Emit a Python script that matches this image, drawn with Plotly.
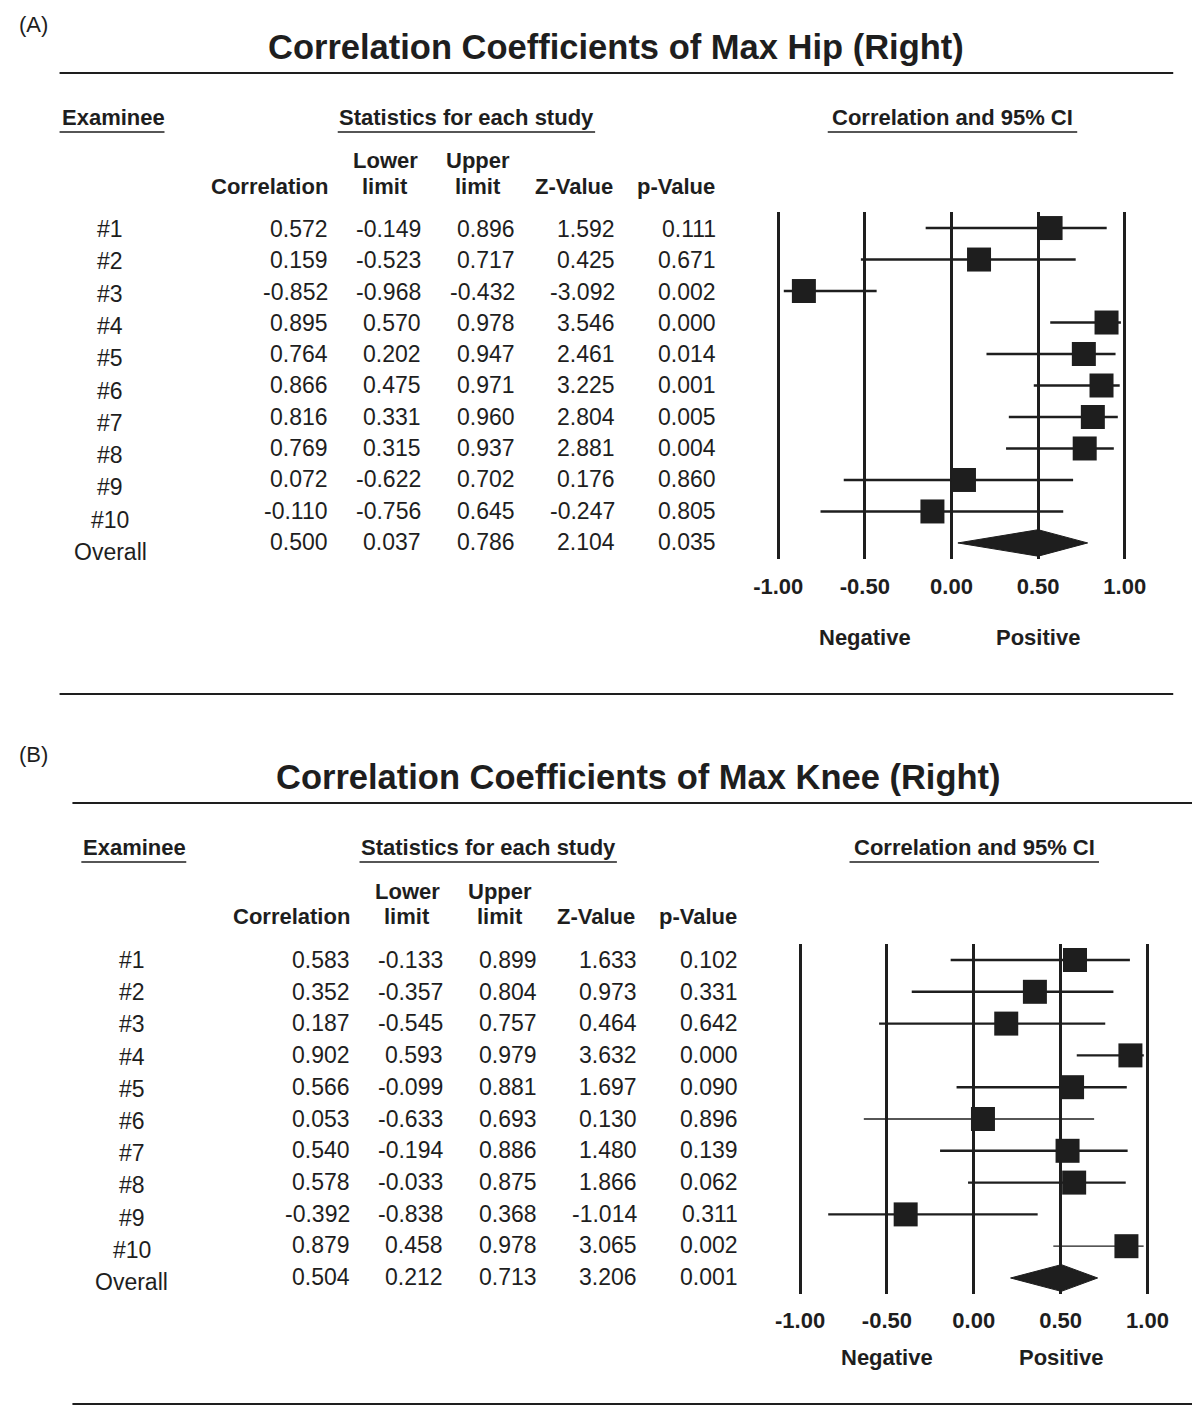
import plotly.graph_objects as go

# ---------------- data ----------------
row_labels = ["#1", "#2", "#3", "#4", "#5", "#6", "#7", "#8", "#9", "#10", "Overall"]

a_title = "Correlation Coefficients of Max Hip (Right)"
a_corr = [0.572, 0.159, -0.852, 0.895, 0.764, 0.866, 0.816, 0.769, 0.072, -0.110, 0.500]
a_lower = [-0.149, -0.523, -0.968, 0.570, 0.202, 0.475, 0.331, 0.315, -0.622, -0.756, 0.037]
a_upper = [0.896, 0.717, -0.432, 0.978, 0.947, 0.971, 0.960, 0.937, 0.702, 0.645, 0.786]
a_z = [1.592, 0.425, -3.092, 3.546, 2.461, 3.225, 2.804, 2.881, 0.176, -0.247, 2.104]
a_p = [0.111, 0.671, 0.002, 0.000, 0.014, 0.001, 0.005, 0.004, 0.860, 0.805, 0.035]

b_title = "Correlation Coefficients of Max Knee (Right)"
b_corr = [0.583, 0.352, 0.187, 0.902, 0.566, 0.053, 0.540, 0.578, -0.392, 0.879, 0.504]
b_lower = [-0.133, -0.357, -0.545, 0.593, -0.099, -0.633, -0.194, -0.033, -0.838, 0.458, 0.212]
b_upper = [0.899, 0.804, 0.757, 0.979, 0.881, 0.693, 0.886, 0.875, 0.368, 0.978, 0.713]
b_z = [1.633, 0.973, 0.464, 3.632, 1.697, 0.130, 1.480, 1.866, -1.014, 3.065, 3.206]
b_p = [0.102, 0.331, 0.642, 0.000, 0.090, 0.896, 0.139, 0.062, 0.311, 0.002, 0.001]

tick_vals = [-1.0, -0.5, 0.0, 0.5, 1.0]
tick_text = ["-1.00", "-0.50", "0.00", "0.50", "1.00"]

# ---------------- layout helpers ----------------
OFF = 8                      # page body margin of the html page
W, H = 1200 - OFF, 1407 - OFF
FONT = "Liberation Sans"
INK = "#1e1e1e"


def px(x):
    return (x - OFF) / W


def py(y):
    return 1 - (y - OFF) / H


fig = go.Figure()
annotations = []
shapes = []


def text(x, y, s, size=22, anchor="center", bold=False, yanchor="middle"):
    annotations.append(dict(
        x=px(x), y=py(y), xref="paper", yref="paper",
        text=("<b>%s</b>" % s) if bold else s,
        showarrow=False, xanchor=anchor, yanchor=yanchor,
        font=dict(family=FONT, size=size, color=INK),
    ))


def hline(x0, x1, y, width=2.2):
    shapes.append(dict(type="line", xref="paper", yref="paper",
                       x0=px(x0), x1=px(x1), y0=py(y), y1=py(y),
                       line=dict(color=INK, width=width)))


def panel(tag, title, corr, lower, upper, zv, pv, dx, top, title_x, line_x0, line_x1,
          num_y0, num_step, lab_y0, lab_step, ax_suffix, x_dom, y_dom, thin_rows,
          tick_y_off, neg_y):
    # panel letter and title
    text(OFF + 1, top + 24, tag, size=22, anchor="left")
    text(title_x, top + 47, title, size=34.5, bold=True)
    hline(line_x0, line_x1, top + 73)

    # section headers with underlines
    text(52 + dx, top + 118, "Examinee", size=22, anchor="left", bold=True)
    hline(52 + dx, 158 + dx, top + 132, 1.6)
    text(463 + dx, top + 118, "Statistics for each study", size=22, bold=True)
    hline(333 + dx, 593 + dx, top + 132, 1.6)
    text(954 + dx, top + 118, "Correlation and 95% CI", size=22, bold=True)
    hline(828 + dx, 1080 + dx, top + 132, 1.6)

    # column headers
    text(325 + dx, top + 186, "Correlation", size=22, anchor="right", bold=True)
    text(381 + dx, top + 161, "Lower", size=22, bold=True)
    text(381 + dx, top + 186, "limit", size=22, bold=True)
    text(475 + dx, top + 161, "Upper", size=22, bold=True)
    text(475 + dx, top + 186, "limit", size=22, bold=True)
    text(613 + dx, top + 186, "Z-Value", size=22, anchor="right", bold=True)
    text(716 + dx, top + 186, "p-Value", size=22, anchor="right", bold=True)

    col_x = [325, 419, 514, 615, 717]
    for i, lab in enumerate(row_labels):
        text(103 + dx, lab_y0 + i * lab_step, lab, size=23)
        yy = num_y0 + i * num_step
        for cx, arr in zip(col_x, [corr, lower, upper, zv, pv]):
            text(cx + dx, yy, "%.3f" % arr[i], size=23, anchor="right")

    xa = "x" + ax_suffix
    ya = "y" + ax_suffix
    n = len(row_labels) - 1
    rows = list(range(1, n + 1))

    # whiskers
    for i in range(n):
        fig.add_trace(go.Scatter(
            x=[lower[i], upper[i]], y=[rows[i], rows[i]], mode="lines",
            line=dict(color=INK, width=1.3 if i in thin_rows else 2.4),
            xaxis=xa, yaxis=ya, showlegend=False, hoverinfo="skip", cliponaxis=False))
    # point estimates
    fig.add_trace(go.Scatter(
        x=corr[:n], y=rows, mode="markers",
        marker=dict(symbol="square", size=24, color=INK, line=dict(width=0)),
        xaxis=xa, yaxis=ya, showlegend=False, cliponaxis=False))
    # overall diamond
    yo = n + 1
    hh = 0.42
    fig.add_trace(go.Scatter(
        x=[lower[n], corr[n], upper[n], corr[n], lower[n]],
        y=[yo, yo - hh, yo, yo + hh, yo],
        mode="lines", fill="toself", fillcolor=INK,
        line=dict(color=INK, width=1),
        xaxis=xa, yaxis=ya, showlegend=False, hoverinfo="skip", cliponaxis=False))

    # Negative / Positive captions under the axis
    annotations.append(dict(x=-0.5, y=py(neg_y), xref=xa, yref="paper",
                            text="<b>Negative</b>", showarrow=False,
                            font=dict(family=FONT, size=22, color=INK)))
    annotations.append(dict(x=0.5, y=py(neg_y), xref=xa, yref="paper",
                            text="<b>Positive</b>", showarrow=False,
                            font=dict(family=FONT, size=22, color=INK)))

    axis_x = dict(domain=[px(x_dom[0]), px(x_dom[1])], range=[-1.1, 1.1],
                  tickvals=tick_vals, ticktext=tick_text, ticks="",
                  showgrid=True, gridcolor=INK, gridwidth=2.8, zeroline=False,
                  showline=False, anchor=ya, ticklabelstandoff=tick_y_off,
                  tickfont=dict(family=FONT, size=22, color=INK, weight="bold"),
                  fixedrange=True)
    axis_y = dict(domain=[py(y_dom[1]), py(y_dom[0])], range=[n + 1.5, 0.5],
                  showgrid=False, zeroline=False, showticklabels=False,
                  showline=False, anchor=xa, fixedrange=True)
    return axis_x, axis_y


ax_a, ay_a = panel("(A)", a_title, a_corr, a_lower, a_upper, a_z, a_p, dx=0, top=0,
                   title_x=614, line_x0=52, line_x1=1177,
                   num_y0=229, num_step=31.3, lab_y0=229, lab_step=32.3,
                   ax_suffix="", x_dom=(760.5, 1145.5), y_dom=(212.3, 558.7),
                   thin_rows=[], tick_y_off=12, neg_y=637)
hline(52, 1177, 694)

ax_b, ay_b = panel("(B)", b_title, b_corr, b_lower, b_upper, b_z, b_p, dx=22, top=730,
                   title_x=637, line_x0=65, line_x1=1200,
                   num_y0=960, num_step=31.7, lab_y0=960, lab_step=32.2,
                   ax_suffix="2", x_dom=(782.5, 1168.5), y_dom=(944.1, 1293.9),
                   thin_rows=[5, 9], tick_y_off=11, neg_y=1372)
hline(65, 1200, 1404)

fig.update_layout(
    width=W, height=H,
    margin=dict(l=0, r=0, t=0, b=0),
    paper_bgcolor="white", plot_bgcolor="white",
    xaxis=ax_a, yaxis=ay_a, xaxis2=ax_b, yaxis2=ay_b,
    annotations=annotations, shapes=shapes,
    showlegend=False,
)

fig.write_html("out.html")
